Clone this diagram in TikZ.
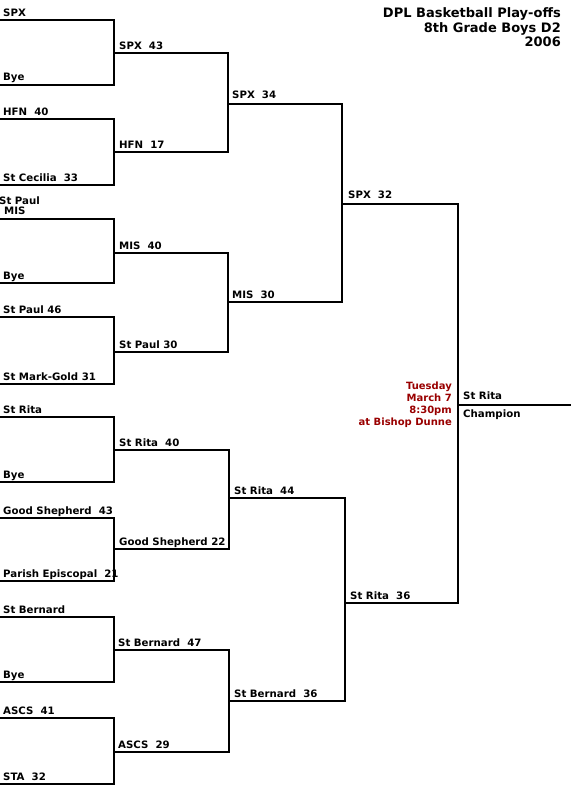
\documentclass[tikz,border=0pt]{standalone}
\usepackage{fontspec}
\setmainfont{DejaVu Sans}
\begin{document}
\begin{tikzpicture}[x=1pt,y=-1pt,
  bline/.style={line width=2pt,line cap=rect},
  lbl/.style={anchor=base west,inner sep=0pt,font=\bfseries\fontsize{10.2}{12}\selectfont},
  ttl/.style={anchor=base east,inner sep=0pt,font=\bfseries\fontsize{13}{14}\selectfont},
  red/.style={anchor=base east,inner sep=0pt,text=redtxt,font=\bfseries\fontsize{10}{12}\selectfont}]
\definecolor{redtxt}{HTML}{990000}
\useasboundingbox (0,0) rectangle (570,800);
% named coordinates for bracket joints
% round 1 (x 0 -> 114)
\foreach \n/\ya/\yb/\ym in {m1/20/85/53, m2/119/185/152, m3/219/283/253, m4/317/384/352,
                           m5/417/482/450, m6/518/581/549, m7/617/682/650, m8/718/784/752}{
  \coordinate (\n a0) at (0,\ya);
  \coordinate (\n a1) at (114,\ya);
  \coordinate (\n b0) at (0,\yb);
  \coordinate (\n b1) at (114,\yb);
  \coordinate (\n w) at (114,\ym);
}
% round 2 (x 114 -> 228)
\coordinate (q1a) at (228,53);  \coordinate (q1b) at (228,152); \coordinate (q1w) at (228,104);
\coordinate (q2a) at (228,253); \coordinate (q2b) at (228,352); \coordinate (q2w) at (228,302);
\coordinate (q3a) at (229,450); \coordinate (q3b) at (229,549); \coordinate (q3w) at (229,498);
\coordinate (q4a) at (229,650); \coordinate (q4b) at (229,752); \coordinate (q4w) at (229,701);
% round 3
\coordinate (s1a) at (342,104); \coordinate (s1b) at (342,302); \coordinate (s1w) at (342,204);
\coordinate (s2a) at (345,498); \coordinate (s2b) at (345,701); \coordinate (s2w) at (345,603);
% final
\coordinate (fa) at (458,204); \coordinate (fb) at (458,603); \coordinate (fw) at (458,405);
\coordinate (champ) at (570,405);

\foreach \n in {m1,m2,m3,m4,m5,m6,m7,m8}{
  \draw[bline] (\n a0) -- (\n a1) -- (\n b1) -- (\n b0);
}
\draw[bline] (m1w) -- (q1a) -- (q1b) -- (m2w);
\draw[bline] (m3w) -- (q2a) -- (q2b) -- (m4w);
\draw[bline] (m5w) -- (q3a) -- (q3b) -- (m6w);
\draw[bline] (m7w) -- (q4a) -- (q4b) -- (m8w);
\draw[bline] (q1w) -- (s1a) -- (s1b) -- (q2w);
\draw[bline] (q3w) -- (s2a) -- (s2b) -- (q4w);
\draw[bline] (s1w) -- (fa) -- (fb) -- (s2w);
\draw[bline] (fw) -- (champ);

% round 1 labels
\node[lbl] (t1) at (3,17) {SPX};
\node[lbl] (t2) at (3,81) {Bye};
\node[lbl] (t3) at (3,115) {HFN~~40};
\node[lbl] (t4) at (3,181) {St Cecilia~~33};
\node[lbl] (t5x) at (-1,204) {St Paul};
\node[lbl] (t5) at (4,214) {MIS};
\node[lbl] (t6) at (3,279) {Bye};
\node[lbl] (t7) at (3,313) {St Paul 46};
\node[lbl] (t8) at (3,380) {St Mark-Gold 31};
\node[lbl] (t9) at (3,413) {St Rita};
\node[lbl] (t10) at (3,478) {Bye};
\node[lbl] (t11) at (3,514) {Good Shepherd~~43};
\node[lbl] (t12) at (3,577) {Parish Episcopal~~21};
\node[lbl] (t13) at (3,613) {St Bernard};
\node[lbl] (t14) at (3,678) {Bye};
\node[lbl] (t15) at (3,714) {ASCS~~41};
\node[lbl] (t16) at (3,780) {STA~~32};
% round 2 labels
\node[lbl] (r1) at (119,49) {SPX~~43};
\node[lbl] (r2) at (119,148) {HFN~~17};
\node[lbl] (r3) at (119,249) {MIS~~40};
\node[lbl] (r4) at (119,348) {St Paul 30};
\node[lbl] (r5) at (119,446) {St Rita~~40};
\node[lbl] (r6) at (119,545) {Good Shepherd 22};
\node[lbl] (r7) at (118,646) {St Bernard~~47};
\node[lbl] (r8) at (118,748) {ASCS~~29};
% round 3 labels
\node[lbl] (u1) at (232,98) {SPX~~34};
\node[lbl] (u2) at (232,298) {MIS~~30};
\node[lbl] (u3) at (234,494) {St Rita~~44};
\node[lbl] (u4) at (234,697) {St Bernard~~36};
% round 4 labels
\node[lbl] (v1) at (348,198) {SPX~~32};
\node[lbl] (v2) at (350,599) {St Rita~~36};
% champion
\node[lbl] (c1) at (463,399) {St Rita};
\node[lbl] (c2) at (463,417) {Champion};
% game info
\node[red] (g1) at (452,389) {Tuesday};
\node[red] (g2) at (452,401) {March 7};
\node[red] (g3) at (452,413) {8:30pm};
\node[red] (g4) at (452,425) {at Bishop Dunne};
% title
\node[ttl] (h1) at (561,18) {DPL Basketball Play-offs};
\node[ttl] (h2) at (561,32.5) {8th Grade Boys D2};
\node[ttl] (h3) at (561,46.5) {2006};
\end{tikzpicture}
\end{document}
